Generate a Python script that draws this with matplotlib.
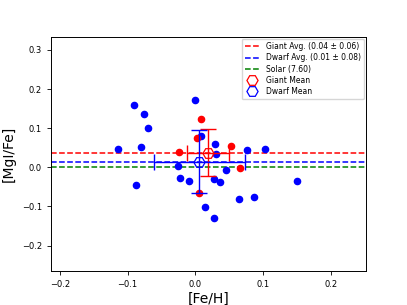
import numpy as np
import matplotlib
matplotlib.use('Agg')
import matplotlib.pyplot as plt

# dwarf stars [Fe/H], [MgI/Fe]
dwarf_feh = [-0.091, -0.075, -0.070, -0.114, -0.080, -0.087, 0.000, 0.008, 0.029, 0.031,
             -0.025, -0.022, -0.009, 0.028, 0.037, 0.014, 0.028, 0.045, 0.076, 0.102,
             0.065, 0.087, 0.150]
dwarf_mg = [0.160, 0.137, 0.100, 0.046, 0.053, -0.046, 0.171, 0.081, 0.060, 0.033,
            0.004, -0.026, -0.036, -0.030, -0.037, -0.101, -0.130, -0.006, 0.045, 0.048,
            -0.080, -0.075, -0.035]

# giant stars
giant_feh = [0.008, 0.003, -0.024, 0.052, 0.066, 0.005]
giant_mg = [0.123, 0.075, 0.039, 0.054, -0.001, -0.066]

solar_label = 'Solar (7.60)'
solar_value = 0.0

gx, gy = np.mean(giant_feh), np.mean(giant_mg)
gxs, gys = np.std(giant_feh), np.std(giant_mg)
dx, dy = np.mean(dwarf_feh), np.mean(dwarf_mg)
dxs, dys = np.std(dwarf_feh), np.std(dwarf_mg)

fig, ax = plt.subplots(figsize=(4.07, 3.05), dpi=100)

ax.axhline(gy, color='red', ls='--', lw=1.1,
           label='Giant Avg. ({:.2f} \u00b1 {:.2f})'.format(gy, gys))
ax.axhline(dy, color='blue', ls='--', lw=1.1,
           label='Dwarf Avg. ({:.2f} \u00b1 {:.2f})'.format(dy, dys))
ax.axhline(solar_value, color='green', ls='--', lw=1.1, label=solar_label)

ax.scatter(dwarf_feh, dwarf_mg, color='blue', s=20, zorder=3)
ax.scatter(giant_feh, giant_mg, color='red', s=20, zorder=3)

# error bars (no legend entry), then the mean markers
ax.errorbar(gx, gy, xerr=gxs, yerr=gys, fmt='none', ecolor='red',
            elinewidth=1.0, capsize=6, capthick=1.0, zorder=4)
ax.errorbar(dx, dy, xerr=dxs, yerr=dys, fmt='none', ecolor='blue',
            elinewidth=1.0, capsize=6, capthick=1.0, zorder=4)
ax.plot(gx, gy, 'H', color='red', mfc='none', ms=8, mew=0.9, zorder=5,
        label='Giant Mean')
ax.plot(dx, dy, 'H', color='blue', mfc='none', ms=8, mew=0.9, zorder=5,
        label='Dwarf Mean')

ax.set_xlim(-0.213, 0.252)
ax.set_ylim(-0.266, 0.334)
ax.set_xticks([-0.2, -0.1, 0.0, 0.1, 0.2])
ax.set_yticks([-0.2, -0.1, 0.0, 0.1, 0.2, 0.3])
ax.tick_params(labelsize=6, length=3, width=0.6)
for sp in ax.spines.values():
    sp.set_linewidth(0.7)

ax.set_xlabel('[Fe/H]', fontsize=10, labelpad=2)
ax.set_ylabel('[MgI/Fe]', fontsize=10, labelpad=4)

ax.legend(loc='upper right', fontsize=5.5, borderaxespad=0.3,
          handlelength=2.0, labelspacing=0.3)

plt.savefig('out.png', dpi=100)
